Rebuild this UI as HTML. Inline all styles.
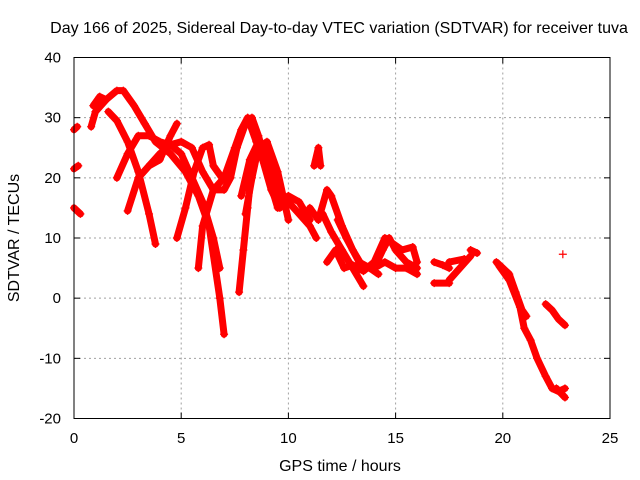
<!DOCTYPE html>
<html><head><meta charset="utf-8"><style>
body{margin:0;background:#fff;}
svg{display:block;font-family:"Liberation Sans",sans-serif;}
</style></head><body>
<svg id="chart" width="640" height="480">
<rect width="640" height="480" fill="#fff"/>
<text x="339" y="33" text-anchor="middle" font-size="16">Day 166 of 2025, Sidereal Day-to-day VTEC variation (SDTVAR) for receiver tuva</text>
<text x="340" y="471" text-anchor="middle" font-size="16">GPS time / hours</text>
<text transform="translate(19,238) rotate(-90)" text-anchor="middle" font-size="16">SDTVAR / TECUs</text>
<g id="grid"></g>
<g id="ticks"></g>
<g id="series"></g>
<rect x="74" y="57.5" width="536" height="361" fill="none" stroke="#000" stroke-width="1"/>
</svg>
<script>
const xTicks=[0,5,10,15,20,25];
const yTicks=[-20,-10,0,10,20,30,40];
const tracks=[
[[0,28],[0.15,28.5]],
[[0,21.5],[0.2,22]],
[[0,15],[0.3,14]],
[[0.8,28.5],[1.0,31],[1.5,33],[2.0,34.5],[2.3,34.5],[2.8,32],[3.3,29],[3.8,26],[4.5,24],[5.2,21],[5.8,17],[6.3,12],[6.8,0],[7.0,-6]],
[[0.9,32],[1.2,33.5],[1.5,33]],
[[1.6,31],[2.0,29.5],[2.5,26],[3.0,21],[3.5,14],[3.8,9]],
[[2.0,20],[2.5,24],[3.0,27],[3.5,27],[4.0,26],[4.5,25.5],[5.0,24],[5.5,20],[6.0,16],[6.5,10],[6.8,5]],
[[2.5,14.5],[3.0,20],[3.5,22],[4.0,23],[4.5,27],[4.8,29]],
[[3.5,22],[4.0,24],[4.5,25.5],[5.0,26],[5.5,25],[6.0,21],[6.5,18],[7.0,18],[7.3,20],[7.6,25],[8.0,29],[8.3,30],[8.6,27],[9.0,22],[9.5,17],[10.0,16],[10.5,14],[11.0,12],[11.3,10]],
[[4.8,10],[5.2,15],[5.6,21],[6.0,25],[6.3,25.5],[6.5,22],[6.9,20]],
[[5.8,5],[6.0,12],[6.5,18],[7.0,20],[7.5,25],[7.8,28],[8.1,30],[8.5,26],[9.0,21],[9.5,15],[10.0,17],[10.5,16],[11.0,13]],
[[7.7,1],[7.9,8],[8.1,15],[8.3,22],[8.5,25],[8.8,23],[9.2,18],[9.6,15]],
[[7.8,17],[8.2,23],[8.6,26],[9.0,24],[9.5,17],[9.9,16]],
[[8.0,14],[8.3,20],[8.6,25],[9.0,26],[9.5,21],[10.0,13]],
[[11.2,22],[11.4,25],[11.5,22]],
[[11.0,15],[11.4,13],[11.8,18],[12.0,17],[12.5,12],[13.0,8],[13.5,5],[14.0,5],[14.5,6],[15.0,5],[15.5,5],[16.0,4]],
[[11.6,14],[12.0,11],[12.5,8],[13.0,5],[13.5,2]],
[[11.8,6],[12.2,8],[12.6,5],[13.0,5.5],[13.5,4.5],[14.0,6],[14.5,10],[14.9,9],[15.3,8],[15.8,8.5],[16.0,6]],
[[12.3,13],[12.7,10],[13.3,6],[13.8,5],[14.2,4]],
[[14.0,5],[14.4,8],[14.7,10],[15.0,8],[15.5,6],[16.0,5]],
[[16.8,6],[17.2,5.5],[17.5,5]],
[[16.8,2.5],[17.5,2.5]],
[[17.5,3],[18.0,5],[18.5,7]],
[[17.5,6],[18.2,6.5]],
[[18.5,8],[18.8,7.5]],
[[19.7,6],[20.0,5],[20.3,4],[20.6,1],[20.9,-2],[21.1,-3]],
[[19.8,5.5],[20.3,3],[20.8,-1.5],[21.0,-5],[21.3,-7],[21.6,-10],[22.0,-13],[22.3,-15],[22.6,-15.5],[22.9,-15]],
[[22.0,-1],[22.3,-2],[22.6,-3.5],[22.9,-4.5]],
[[22.5,-15],[22.9,-16.5]],
[[22.8,7.3]]
];
const X0=74,X1=610,Y0=418.5,Y1=57.5;
function sx(t){return X0+(t-0)/(25-0)*(X1-X0);}
function sy(v){return Y0-(v+20)/(60)*(Y0-Y1);}
const NS='http://www.w3.org/2000/svg';
const grid=document.getElementById('grid'),ticks=document.getElementById('ticks'),ser=document.getElementById('series');
function mk(tag,attrs,parent){const e=document.createElementNS(NS,tag);for(const k in attrs)e.setAttribute(k,attrs[k]);parent.appendChild(e);return e;}
xTicks.forEach(t=>{
 const x=sx(t);
 if(t>0&&t<25){const g=mk('line',{x1:x,x2:x,y1:Y1,y2:Y0,stroke:'#a0a0a0','stroke-dasharray':'2,3'},grid);
 
 }
 mk('line',{x1:x,x2:x,y1:Y0,y2:Y0-6,stroke:'#000'},ticks);
 mk('line',{x1:x,x2:x,y1:Y1,y2:Y1+6,stroke:'#000'},ticks);
 const l=mk('text',{x:x,y:443,'text-anchor':'middle','font-size':15},ticks);l.textContent=t;
 
 
});
yTicks.forEach(v=>{
 const y=sy(v);
 if(v>-20&&v<40){const g=mk('line',{x1:X0,x2:X1,y1:y,y2:y,stroke:'#a0a0a0','stroke-dasharray':'2,3'},grid);
 
 }
 mk('line',{x1:X0,x2:X0+6,y1:y,y2:y,stroke:'#000'},ticks);
 mk('line',{x1:X1,x2:X1-6,y1:y,y2:y,stroke:'#000'},ticks);
 const l=mk('text',{x:X0-13,y:y+5,'text-anchor':'end','font-size':15},ticks);l.textContent=v;
 
 
});
tracks.forEach((tr,i)=>{
 if(tr.length>1){
 const p=mk('polyline',{points:tr.map(d=>sx(d[0])+','+sy(d[1])).join(' '),fill:'none',stroke:'#ff0000','stroke-width':7,'stroke-linejoin':'round','stroke-linecap':'round'},ser);
 
 
 }
 tr.forEach(d=>{
  const x=sx(d[0]),y=sy(d[1]);
  const m=mk('path',{d:`M${x-4},${y}H${x+4}M${x},${y-4}V${y+4}`,stroke:'#ff0000','stroke-width':1.2},ser);
  
  
 });
});
</script>
</body></html>
